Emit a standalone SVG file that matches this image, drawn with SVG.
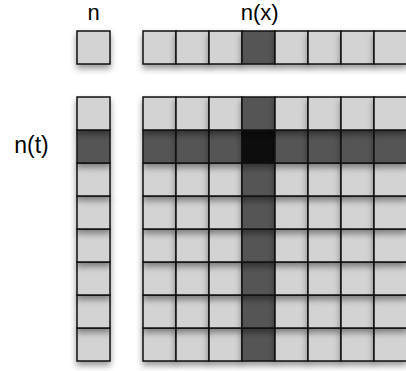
<svg xmlns="http://www.w3.org/2000/svg" width="406" height="371" viewBox="0 0 406 371">
<defs>
<filter id="sh" x="-30%" y="-30%" width="160%" height="180%">
<feDropShadow dx="0" dy="4" stdDeviation="3" flood-color="#000" flood-opacity="0.4"/>
</filter>
<style>
.c{fill:#d3d3d3;stroke:#111;stroke-width:1.5;filter:url(#sh)}
.d{fill:#555;stroke:#111;stroke-width:1.5;filter:url(#sh)}
.k{fill:#080808;stroke:#111;stroke-width:1.5;filter:url(#sh)}
.t{font-family:"Liberation Sans",Arial,sans-serif;font-size:22px;fill:#000}
.u{font-family:"Liberation Sans",Arial,sans-serif;font-size:23px;fill:#000}
</style>
</defs>
<rect width="406" height="371" fill="#fff"/>
<g id="labels">
<text class="t" x="93.7" y="20" text-anchor="middle">n</text>
<text class="t" x="259.6" y="20" text-anchor="middle">n(x)</text>
<text class="u" x="31.5" y="153" text-anchor="middle">n(t)</text>
</g>
<g id="n-cell"><rect class="c" x="77" y="31" width="33" height="33"/></g>
<g id="nx-row">
<rect class="c" x="143" y="31" width="33" height="33"/>
<rect class="c" x="176" y="31" width="33" height="33"/>
<rect class="c" x="209" y="31" width="33" height="33"/>
<rect class="d" x="242" y="31" width="33" height="33"/>
<rect class="c" x="275" y="31" width="33" height="33"/>
<rect class="c" x="308" y="31" width="33" height="33"/>
<rect class="c" x="341" y="31" width="33" height="33"/>
<rect class="c" x="374" y="31" width="33" height="33"/>
</g>
<g id="nt-column">
<rect class="c" x="77" y="328" width="33" height="33"/>
<rect class="c" x="77" y="295" width="33" height="33"/>
<rect class="c" x="77" y="262" width="33" height="33"/>
<rect class="c" x="77" y="229" width="33" height="33"/>
<rect class="c" x="77" y="196" width="33" height="33"/>
<rect class="c" x="77" y="163" width="33" height="33"/>
<rect class="d" x="77" y="130" width="33" height="33"/>
<rect class="c" x="77" y="97" width="33" height="33"/>
</g>
<g id="grid">
<g id="row8">
<rect class="c" x="143" y="328" width="33" height="33"/><rect class="c" x="176" y="328" width="33" height="33"/><rect class="c" x="209" y="328" width="33" height="33"/><rect class="d" x="242" y="328" width="33" height="33"/><rect class="c" x="275" y="328" width="33" height="33"/><rect class="c" x="308" y="328" width="33" height="33"/><rect class="c" x="341" y="328" width="33" height="33"/><rect class="c" x="374" y="328" width="33" height="33"/>
</g>
<g id="row7">
<rect class="c" x="143" y="295" width="33" height="33"/><rect class="c" x="176" y="295" width="33" height="33"/><rect class="c" x="209" y="295" width="33" height="33"/><rect class="d" x="242" y="295" width="33" height="33"/><rect class="c" x="275" y="295" width="33" height="33"/><rect class="c" x="308" y="295" width="33" height="33"/><rect class="c" x="341" y="295" width="33" height="33"/><rect class="c" x="374" y="295" width="33" height="33"/>
</g>
<g id="row6">
<rect class="c" x="143" y="262" width="33" height="33"/><rect class="c" x="176" y="262" width="33" height="33"/><rect class="c" x="209" y="262" width="33" height="33"/><rect class="d" x="242" y="262" width="33" height="33"/><rect class="c" x="275" y="262" width="33" height="33"/><rect class="c" x="308" y="262" width="33" height="33"/><rect class="c" x="341" y="262" width="33" height="33"/><rect class="c" x="374" y="262" width="33" height="33"/>
</g>
<g id="row5">
<rect class="c" x="143" y="229" width="33" height="33"/><rect class="c" x="176" y="229" width="33" height="33"/><rect class="c" x="209" y="229" width="33" height="33"/><rect class="d" x="242" y="229" width="33" height="33"/><rect class="c" x="275" y="229" width="33" height="33"/><rect class="c" x="308" y="229" width="33" height="33"/><rect class="c" x="341" y="229" width="33" height="33"/><rect class="c" x="374" y="229" width="33" height="33"/>
</g>
<g id="row4">
<rect class="c" x="143" y="196" width="33" height="33"/><rect class="c" x="176" y="196" width="33" height="33"/><rect class="c" x="209" y="196" width="33" height="33"/><rect class="d" x="242" y="196" width="33" height="33"/><rect class="c" x="275" y="196" width="33" height="33"/><rect class="c" x="308" y="196" width="33" height="33"/><rect class="c" x="341" y="196" width="33" height="33"/><rect class="c" x="374" y="196" width="33" height="33"/>
</g>
<g id="row3">
<rect class="c" x="143" y="163" width="33" height="33"/><rect class="c" x="176" y="163" width="33" height="33"/><rect class="c" x="209" y="163" width="33" height="33"/><rect class="d" x="242" y="163" width="33" height="33"/><rect class="c" x="275" y="163" width="33" height="33"/><rect class="c" x="308" y="163" width="33" height="33"/><rect class="c" x="341" y="163" width="33" height="33"/><rect class="c" x="374" y="163" width="33" height="33"/>
</g>
<g id="row2">
<rect class="d" x="143" y="130" width="33" height="33"/><rect class="d" x="176" y="130" width="33" height="33"/><rect class="d" x="209" y="130" width="33" height="33"/><rect class="k" x="242" y="130" width="33" height="33"/><rect class="d" x="275" y="130" width="33" height="33"/><rect class="d" x="308" y="130" width="33" height="33"/><rect class="d" x="341" y="130" width="33" height="33"/><rect class="d" x="374" y="130" width="33" height="33"/>
</g>
<g id="row1">
<rect class="c" x="143" y="97" width="33" height="33"/><rect class="c" x="176" y="97" width="33" height="33"/><rect class="c" x="209" y="97" width="33" height="33"/><rect class="d" x="242" y="97" width="33" height="33"/><rect class="c" x="275" y="97" width="33" height="33"/><rect class="c" x="308" y="97" width="33" height="33"/><rect class="c" x="341" y="97" width="33" height="33"/><rect class="c" x="374" y="97" width="33" height="33"/>
</g>
</g>
<g id="connectors"/>
</svg>
